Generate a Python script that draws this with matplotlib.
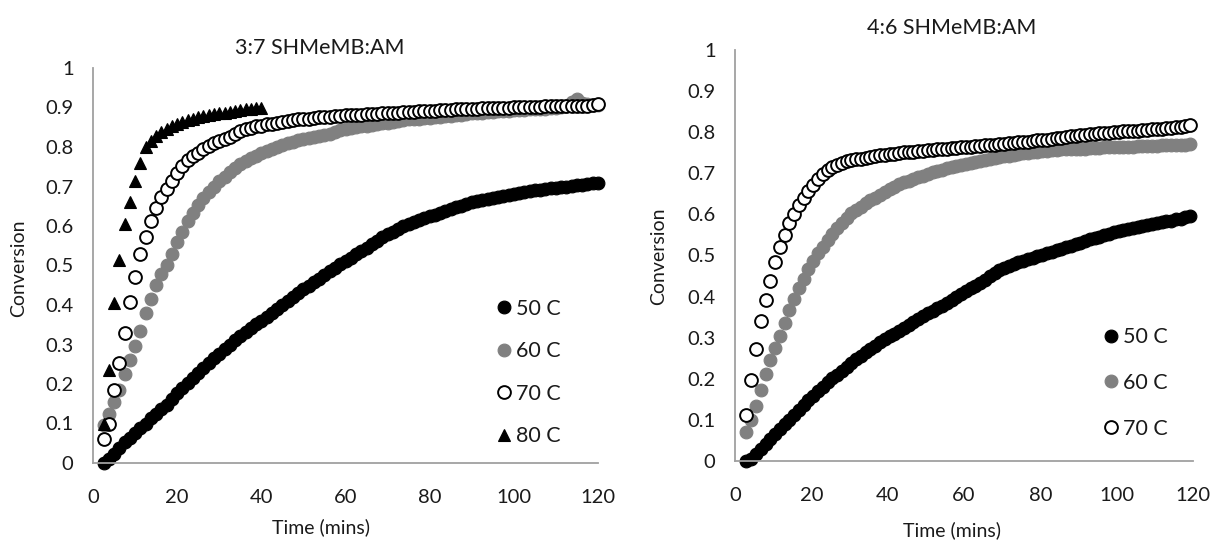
import numpy as np
import matplotlib
matplotlib.use("Agg")
import matplotlib.pyplot as plt
from matplotlib.lines import Line2D

plt.rcParams['font.family'] = ['Lato', 'DejaVu Sans']

# ---------------- data ----------------
# sampling of the time axis (minutes)
left_t0, right_t0, dt = 2.5, 3.0, 1.25

# 3:7 SHMeMB:AM
left_50 = [0.000, 0.010, 0.022, 0.037, 0.052, 0.063, 0.075, 0.088, 0.100, 0.113,
           0.125, 0.136, 0.148, 0.162, 0.176, 0.190, 0.203, 0.216, 0.229, 0.241,
           0.253, 0.265, 0.277, 0.289, 0.300, 0.311, 0.322, 0.332, 0.342, 0.351,
           0.360, 0.370, 0.380, 0.390, 0.400, 0.410, 0.420, 0.430, 0.440, 0.449,
           0.458, 0.467, 0.476, 0.485, 0.494, 0.503, 0.511, 0.520, 0.528, 0.537,
           0.545, 0.554, 0.563, 0.572, 0.580, 0.586, 0.593, 0.599, 0.605, 0.610,
           0.615, 0.620, 0.625, 0.629, 0.634, 0.638, 0.642, 0.647, 0.651, 0.656,
           0.660, 0.663, 0.666, 0.668, 0.671, 0.674, 0.676, 0.679, 0.681, 0.683,
           0.686, 0.688, 0.690, 0.692, 0.694, 0.695, 0.697, 0.699, 0.700, 0.702,
           0.703, 0.705, 0.706, 0.708, 0.709]
left_60 = [0.095, 0.125, 0.155, 0.185, 0.225, 0.262, 0.295, 0.335, 0.380, 0.415,
           0.450, 0.478, 0.502, 0.530, 0.560, 0.585, 0.612, 0.632, 0.652, 0.670,
           0.685, 0.700, 0.713, 0.725, 0.737, 0.747, 0.756, 0.764, 0.771, 0.778,
           0.784, 0.790, 0.796, 0.801, 0.805, 0.810, 0.813, 0.817, 0.820, 0.823,
           0.826, 0.828, 0.830, 0.834, 0.838, 0.843, 0.846, 0.848, 0.850, 0.852,
           0.854, 0.856, 0.858, 0.860, 0.862, 0.864, 0.866, 0.868, 0.870, 0.871,
           0.872, 0.873, 0.874, 0.876, 0.877, 0.878, 0.879, 0.881, 0.882, 0.883,
           0.885, 0.886, 0.887, 0.888, 0.889, 0.890, 0.891, 0.892, 0.893, 0.893,
           0.894, 0.895, 0.896, 0.896, 0.897, 0.898, 0.899, 0.901, 0.905, 0.915,
           0.922, 0.912, 0.908, 0.907, 0.907]
left_70 = [0.060, 0.098, 0.185, 0.252, 0.328, 0.408, 0.472, 0.530, 0.573, 0.612,
           0.646, 0.674, 0.694, 0.713, 0.733, 0.752, 0.767, 0.777, 0.786, 0.795,
           0.803, 0.809, 0.815, 0.820, 0.826, 0.833, 0.840, 0.845, 0.849, 0.852,
           0.854, 0.857, 0.859, 0.862, 0.864, 0.866, 0.868, 0.870, 0.871, 0.872,
           0.874, 0.875, 0.876, 0.877, 0.878, 0.879, 0.880, 0.881, 0.881, 0.882,
           0.883, 0.884, 0.884, 0.885, 0.886, 0.886, 0.887, 0.888, 0.889, 0.889,
           0.890, 0.891, 0.891, 0.892, 0.893, 0.893, 0.894, 0.895, 0.895, 0.896,
           0.897, 0.897, 0.898, 0.898, 0.899, 0.899, 0.900, 0.900, 0.901, 0.901,
           0.901, 0.902, 0.902, 0.902, 0.903, 0.903, 0.903, 0.904, 0.904, 0.904,
           0.905, 0.905, 0.905, 0.906, 0.908]
left_80 = [0.100, 0.235, 0.405, 0.515, 0.605, 0.660, 0.715, 0.760, 0.800, 0.815,
           0.828, 0.838, 0.846, 0.853, 0.859, 0.864, 0.868, 0.872, 0.875, 0.878,
           0.881, 0.883, 0.885, 0.887, 0.889, 0.891, 0.893, 0.895, 0.896, 0.898,
           0.900]

# 4:6 SHMeMB:AM
right_50 = [0.000, 0.006, 0.017, 0.029, 0.042, 0.054, 0.066, 0.077, 0.089, 0.100,
            0.112, 0.125, 0.137, 0.148, 0.159, 0.170, 0.181, 0.191, 0.201, 0.210,
            0.220, 0.229, 0.238, 0.247, 0.256, 0.265, 0.273, 0.281, 0.289, 0.296,
            0.303, 0.310, 0.317, 0.324, 0.331, 0.338, 0.345, 0.352, 0.359, 0.365,
            0.372, 0.378, 0.385, 0.392, 0.399, 0.406, 0.413, 0.420, 0.427, 0.434,
            0.441, 0.449, 0.457, 0.464, 0.469, 0.474, 0.479, 0.483, 0.487, 0.491,
            0.495, 0.499, 0.502, 0.506, 0.509, 0.513, 0.517, 0.520, 0.524, 0.527,
            0.531, 0.535, 0.539, 0.542, 0.546, 0.549, 0.553, 0.556, 0.559, 0.562,
            0.565, 0.567, 0.570, 0.572, 0.575, 0.577, 0.579, 0.581, 0.583, 0.585,
            0.588, 0.590, 0.593, 0.597]
right_60 = [0.071, 0.100, 0.135, 0.172, 0.212, 0.245, 0.275, 0.303, 0.335, 0.368,
            0.395, 0.420, 0.444, 0.467, 0.487, 0.505, 0.521, 0.537, 0.552, 0.566,
            0.579, 0.591, 0.603, 0.611, 0.619, 0.627, 0.634, 0.641, 0.648, 0.655,
            0.661, 0.667, 0.673, 0.678, 0.682, 0.686, 0.690, 0.694, 0.698, 0.702,
            0.706, 0.709, 0.712, 0.715, 0.718, 0.721, 0.723, 0.726, 0.728, 0.731,
            0.733, 0.736, 0.737, 0.739, 0.741, 0.743, 0.745, 0.747, 0.749, 0.750,
            0.752, 0.753, 0.754, 0.755, 0.756, 0.757, 0.758, 0.758, 0.759, 0.759,
            0.760, 0.760, 0.761, 0.762, 0.762, 0.763, 0.763, 0.764, 0.764, 0.765,
            0.765, 0.765, 0.766, 0.766, 0.766, 0.767, 0.767, 0.768, 0.768, 0.769,
            0.769, 0.770, 0.770, 0.771]
right_70 = [0.112, 0.198, 0.272, 0.340, 0.392, 0.438, 0.484, 0.521, 0.550, 0.578,
            0.601, 0.622, 0.640, 0.657, 0.672, 0.685, 0.698, 0.708, 0.716, 0.721,
            0.725, 0.729, 0.732, 0.734, 0.736, 0.738, 0.740, 0.742, 0.744, 0.745,
            0.747, 0.748, 0.750, 0.751, 0.752, 0.753, 0.754, 0.755, 0.756, 0.757,
            0.758, 0.759, 0.760, 0.761, 0.762, 0.763, 0.764, 0.765, 0.766, 0.767,
            0.768, 0.769, 0.770, 0.771, 0.772, 0.773, 0.774, 0.775, 0.776, 0.777,
            0.778, 0.780, 0.781, 0.782, 0.784, 0.785, 0.787, 0.788, 0.790, 0.791,
            0.793, 0.794, 0.795, 0.796, 0.797, 0.798, 0.799, 0.800, 0.801, 0.802,
            0.803, 0.803, 0.804, 0.805, 0.806, 0.807, 0.808, 0.809, 0.810, 0.811,
            0.812, 0.813, 0.814, 0.817]

series_labels_left = ["50 C", "60 C", "70 C", "80 C"]
series_labels_right = ["50 C", "60 C", "70 C"]
titles = ["3:7 SHMeMB:AM", "4:6 SHMeMB:AM"]
x_label = "Time (mins)"
y_label = "Conversion"
x_ticks = [0, 20, 40, 60, 80, 100, 120]
y_ticks = [0, 0.1, 0.2, 0.3, 0.4, 0.5, 0.6, 0.7, 0.8, 0.9, 1]
y_tick_labels = ["0", "0.1", "0.2", "0.3", "0.4", "0.5", "0.6", "0.7", "0.8", "0.9", "1"]

# ---------------- styles ----------------
TXT = "#1a1a1a"
SPINE = "#a0a0a0"
MS = 9.2
styles = {
    "50 C": dict(marker="o", ms=MS, mfc="black", mec="black", mew=0.8),
    "60 C": dict(marker="o", ms=MS, mfc="#808080", mec="#808080", mew=0.8),
    "70 C": dict(marker="o", ms=MS, mfc="white", mec="black", mew=1.4),
    "80 C": dict(marker="^", ms=MS, mfc="black", mec="black", mew=0.8),
}

fig = plt.figure(figsize=(12.1, 5.44), dpi=100)
W, H = 1210.0, 544.0

def px_axes(x0, x1, ybot, ytop):
    return fig.add_axes([x0 / W, 1 - ybot / H, (x1 - x0) / W, (ybot - ytop) / H])

ax1 = px_axes(93, 598, 463, 68)
ax2 = px_axes(735, 1193, 461, 50)

def style_axes(ax):
    ax.set_xlim(0, 120)
    ax.set_ylim(0, 1)
    ax.set_xticks(x_ticks)
    ax.set_yticks(y_ticks)
    ax.set_yticklabels(y_tick_labels)
    for s in ("top", "right"):
        ax.spines[s].set_visible(False)
    for s in ("left", "bottom"):
        ax.spines[s].set_color(SPINE)
        ax.spines[s].set_linewidth(1.3)
    ax.tick_params(length=0, labelsize=14.5, colors=TXT)
    ax.tick_params(axis="y", pad=14)
    ax.tick_params(axis="x", pad=19)

def plot_series(ax, t0, data, labels):
    handles = []
    for vals, lab in zip(data, labels):
        t = t0 + dt * np.arange(len(vals))
        ax.plot(t, vals, linestyle="none", clip_on=False, **styles[lab])
        handles.append(Line2D([], [], linestyle="none", **styles[lab]))
    return handles

style_axes(ax1)
h1 = plot_series(ax1, left_t0, [left_50, left_60, left_70, left_80], series_labels_left)
leg1 = ax1.legend(h1, series_labels_left, loc="center left", bbox_to_anchor=(0.795, 0.229),
                  frameon=False, fontsize=15.5, handlelength=0.9, handletextpad=0.12,
                  labelspacing=1.05, borderpad=0, borderaxespad=0)
for tx in leg1.get_texts():
    tx.set_color(TXT)

style_axes(ax2)
h2 = plot_series(ax2, right_t0, [right_50, right_60, right_70], series_labels_right)
leg2 = ax2.legend(h2, series_labels_right, loc="center left", bbox_to_anchor=(0.80, 0.19),
                  frameon=False, fontsize=15.5, handlelength=0.9, handletextpad=0.12,
                  labelspacing=1.2, borderpad=0, borderaxespad=0)
for tx in leg2.get_texts():
    tx.set_color(TXT)

# titles and axis labels (positions in figure pixels)
fig.text(320 / W, 1 - 48 / H, titles[0], ha="center", va="center", fontsize=15.5, color=TXT)
fig.text(952 / W, 1 - 28 / H, titles[1], ha="center", va="center", fontsize=15.5, color=TXT)
fig.text(321 / W, 1 - 527 / H, x_label, ha="center", va="center", fontsize=14, color=TXT)
fig.text(952 / W, 1 - 530 / H, x_label, ha="center", va="center", fontsize=14, color=TXT)
fig.text(19 / W, 1 - 268 / H, y_label, ha="center", va="center", rotation=90, fontsize=14, color=TXT)
fig.text(659 / W, 1 - 256 / H, y_label, ha="center", va="center", rotation=90, fontsize=14, color=TXT)

fig.savefig("out.png", dpi=100, facecolor="white")
